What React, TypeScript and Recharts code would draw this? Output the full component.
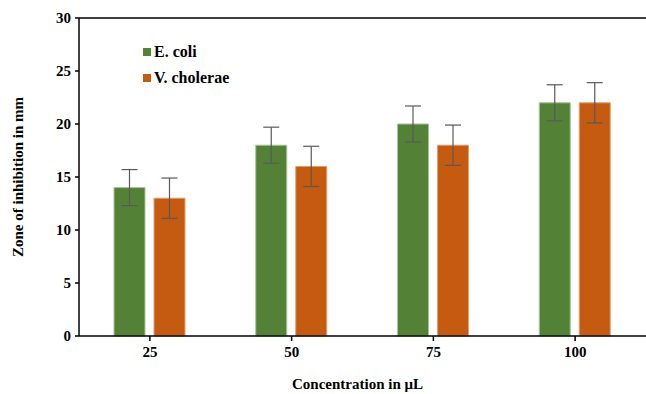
import React from 'react';
import {
    BarChart,
    Bar,
    XAxis,
    YAxis,
    ErrorBar,
    ReferenceLine
} from 'recharts';

const concentrations = ['25', '50', '75', '100'];
const eColi = [14, 18, 20, 22];
const eColiErr = [1.7, 1.7, 1.7, 1.7];
const vCholerae = [13, 16, 18, 22];
const vCholeraeErr = [1.9, 1.9, 1.9, 1.9];
const yTicks = [0, 5, 10, 15, 20, 25, 30];

const data = concentrations.map((c, i) => ({
    conc: c,
    ecoli: eColi[i],
    ecoliErr: eColiErr[i],
    vchol: vCholerae[i],
    vcholErr: vCholeraeErr[i]
}));

const FONT = '"Liberation Serif", "Times New Roman", serif';
const GREEN = '#538135';
const ORANGE = '#C55A11';

const series = [
    { name: 'E. coli', color: GREEN },
    { name: 'V. cholerae', color: ORANGE }
];

// legend sits inside the plot, drawn as an overlay so it doesn't eat chart space
const LegendBox = () => (
    <div
        style={{
            position: 'absolute',
            left: 143,
            top: 39,
            fontFamily: FONT,
            fontWeight: 'bold',
            fontSize: 16,
            color: '#000'
        }}
    >
        {series.map((item) => (
            <div key={item.name} style={{ display: 'flex', alignItems: 'center', height: 26 }}>
                <span style={{ width: 8, height: 8, background: item.color, display: 'inline-block', marginRight: 3 }} />
                <span>{item.name}</span>
            </div>
        ))}
    </div>
);

const App: React.FC = () => {
    return (
        <div style={{ position: 'absolute', left: 0, top: 0, width: 646, height: 394, background: '#fff' }}>
            <BarChart
                width={646}
                height={394}
                data={data}
                margin={{ top: 18, right: 0, left: 0, bottom: 0 }}
                barSize={31}
                barGap={9}
            >
                <XAxis
                    dataKey="conc"
                    height={58}
                    stroke="#000"
                    strokeWidth={1.5}
                    tickSize={5}
                    tick={{ fontSize: 15, fontWeight: 'bold', fontFamily: FONT, fill: '#000' }}
                    tickMargin={5}
                    label={{
                        value: 'Concentration in μL',
                        position: 'insideBottom',
                        offset: 5,
                        dx: -5,
                        style: { fontSize: 15, fontWeight: 'bold', fontFamily: FONT, fill: '#000' }
                    }}
                />
                <YAxis
                    width={79}
                    domain={[0, 30]}
                    ticks={yTicks}
                    interval={0}
                    stroke="#000"
                    strokeWidth={1.5}
                    tickSize={4}
                    tick={{ fontSize: 15, fontWeight: 'bold', fontFamily: FONT, fill: '#000' }}
                    tickMargin={4}
                    label={{
                        value: 'Zone of inhibition in mm',
                        angle: -90,
                        position: 'insideLeft',
                        offset: 18,
                        style: { textAnchor: 'middle', fontSize: 15, fontWeight: 'bold', fontFamily: FONT, fill: '#000' }
                    }}
                />
                <ReferenceLine y={30} stroke="#000" strokeWidth={1.5} />
                <Bar dataKey="ecoli" name="E. coli" fill={GREEN} stroke="#a8c49a" strokeWidth={1} isAnimationActive={false}>
                    <ErrorBar dataKey="ecoliErr" width={8} stroke="#595959" strokeWidth={1.2} />
                </Bar>
                <Bar dataKey="vchol" name="V. cholerae" fill={ORANGE} stroke="#e0a070" strokeWidth={1} isAnimationActive={false}>
                    <ErrorBar dataKey="vcholErr" width={8} stroke="#595959" strokeWidth={1.2} />
                </Bar>
            </BarChart>
            <LegendBox />
        </div>
    );
};

export default App;
